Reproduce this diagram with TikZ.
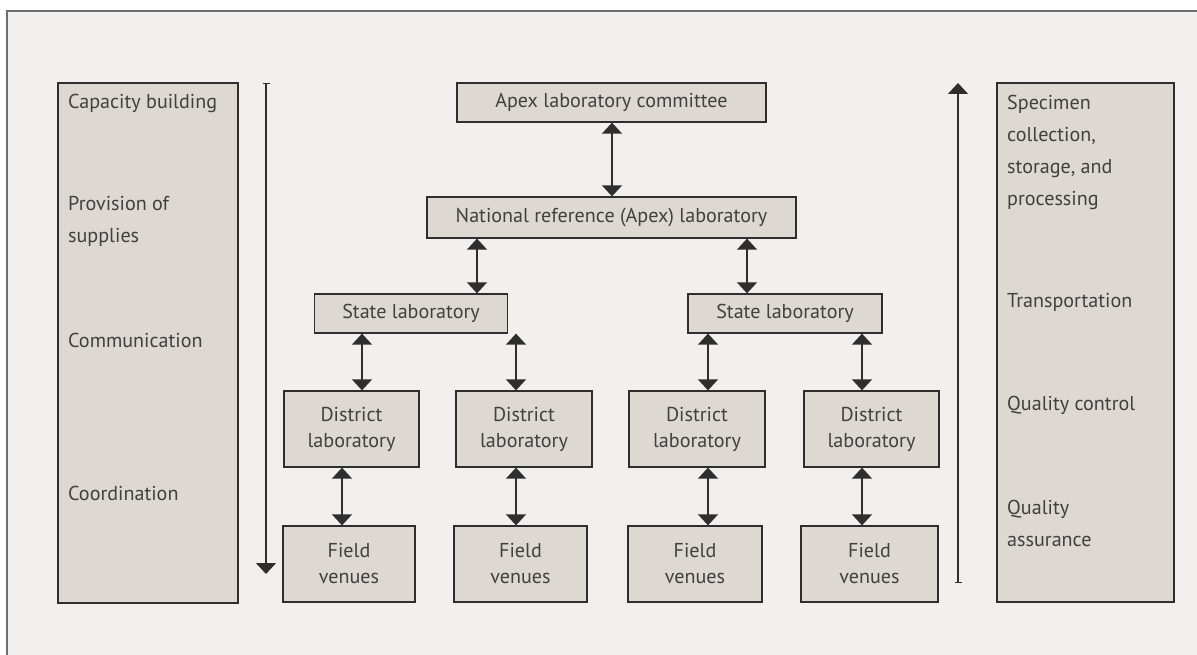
\documentclass[tikz,border=0pt]{standalone}
\usepackage{fontspec}
\setmainfont{PT Sans}
\usetikzlibrary{arrows.meta}
\definecolor{pagebg}{HTML}{F1F0EE}
\definecolor{boxfill}{HTML}{DED8D2}
\definecolor{edge}{HTML}{2E2E2E}
\definecolor{framec}{HTML}{6E6E6E}
\definecolor{txt}{HTML}{404040}
\begin{document}
\begin{tikzpicture}[x=1pt,y=-1pt,
  every node/.style={font=\fontsize{20.1}{26}\selectfont, text=txt},
  box/.style={draw=edge, line width=1.3pt, fill=boxfill, inner sep=0pt, align=center},
  sidetext/.style={anchor=west, align=left, inner sep=0pt, font=\fontsize{20.1}{32}\selectfont},
  tip/.tip={Triangle[width=20pt,length=11pt]},
  link/.style={tip-tip, line width=1.5pt, draw=edge},
  flow/.style={{Bar[width=7pt,line width=1pt]}-tip, line width=1.4pt, draw=edge}]
\useasboundingbox (0,0) rectangle (1197,655);
\fill[white] (0,0) rectangle (1197,655);
% outer panel
\draw[draw=framec, line width=2pt, fill=pagebg] (7,680) -- (7,11) -- (1220,11) -- (1220,680) -- cycle;

% side columns
\node[box, minimum width=180pt, minimum height=520pt] (leftcol) at (148,343) {};
\node[box, minimum width=177pt, minimum height=519pt] (rightcol) at (1085.5,342.5) {};

\node[sidetext] (t1) at (68,103) {Capacity building};
\node[sidetext] (t2) at (68,221) {Provision of\\supplies};
\node[sidetext] (t3) at (68,340) {Communication};
\node[sidetext] (t4) at (68,493) {Coordination};

\node[sidetext] (r1) at (1007,152.5) {Specimen\\collection,\\storage, and\\processing};
\node[sidetext] (r2) at (1007,302) {Transportation};
\node[sidetext] (r3) at (1007,405) {Quality control};
\node[sidetext] (r4) at (1007,523.5) {Quality\\assurance};

% hierarchy
\node[box, minimum width=309pt, minimum height=39pt] (apex) at (611.5,102.5) {Apex laboratory committee};
\node[box, minimum width=369pt, minimum height=41pt] (natl) at (611.5,217.5) {National reference (Apex) laboratory};
\node[box, minimum width=193pt, minimum height=39pt] (stL) at (411,313.5) {State laboratory};
\node[box, minimum width=194pt, minimum height=39pt] (stR) at (785,313.5) {State laboratory};

\node[box, minimum width=135pt, minimum height=76pt] (d1) at (351.5,429) {District\\laboratory};
\node[box, minimum width=136pt, minimum height=76pt] (d2) at (524,429) {District\\laboratory};
\node[box, minimum width=136pt, minimum height=76pt] (d3) at (697,429) {District\\laboratory};
\node[box, minimum width=135pt, minimum height=76pt] (d4) at (871.5,429) {District\\laboratory};

\node[box, minimum width=132pt, minimum height=76pt] (f1) at (349,564) {Field\\venues};
\node[box, minimum width=133pt, minimum height=76pt] (f2) at (520.5,564) {Field\\venues};
\node[box, minimum width=134pt, minimum height=76pt] (f3) at (695,564) {Field\\venues};
\node[box, minimum width=137pt, minimum height=76pt] (f4) at (869.5,564) {Field\\venues};

% connector columns
\coordinate (xa) at (612,0);
\coordinate (xb) at (477,0);
\coordinate (xc) at (747,0);
\coordinate (xd1) at (362,0);
\coordinate (xd2) at (516,0);
\coordinate (xd3) at (708,0);
\coordinate (xd4) at (862,0);
\coordinate (xf1) at (342,0);

\draw[link] (apex.south -| xa) -- (natl.north -| xa);
\draw[link] (natl.south -| xb) -- (stL.north -| xb);
\draw[link] (natl.south -| xc) -- (stR.north -| xc);
\draw[link] (stL.south -| xd1) -- (d1.north -| xd1);
\draw[link] (stL.south -| xd2) -- (d2.north -| xd2);
\draw[link] (stR.south -| xd3) -- (d3.north -| xd3);
\draw[link] (stR.south -| xd4) -- (d4.north -| xd4);
\draw[link] (d1.south -| xf1) -- (f1.north -| xf1);
\draw[link] (d2.south -| xd2) -- (f2.north -| xd2);
\draw[link] (d3.south -| xd3) -- (f3.north -| xd3);
\draw[link] (d4.south -| xd4) -- (f4.north -| xd4);

% side flows
\coordinate (downtop) at (266,83);
\coordinate (downend) at (266,574);
\coordinate (upstart) at (958,583);
\coordinate (upend) at (958,83);
\draw[flow] (downtop) -- (downend);
\draw[flow] (upstart) -- (upend);
\end{tikzpicture}
\end{document}
